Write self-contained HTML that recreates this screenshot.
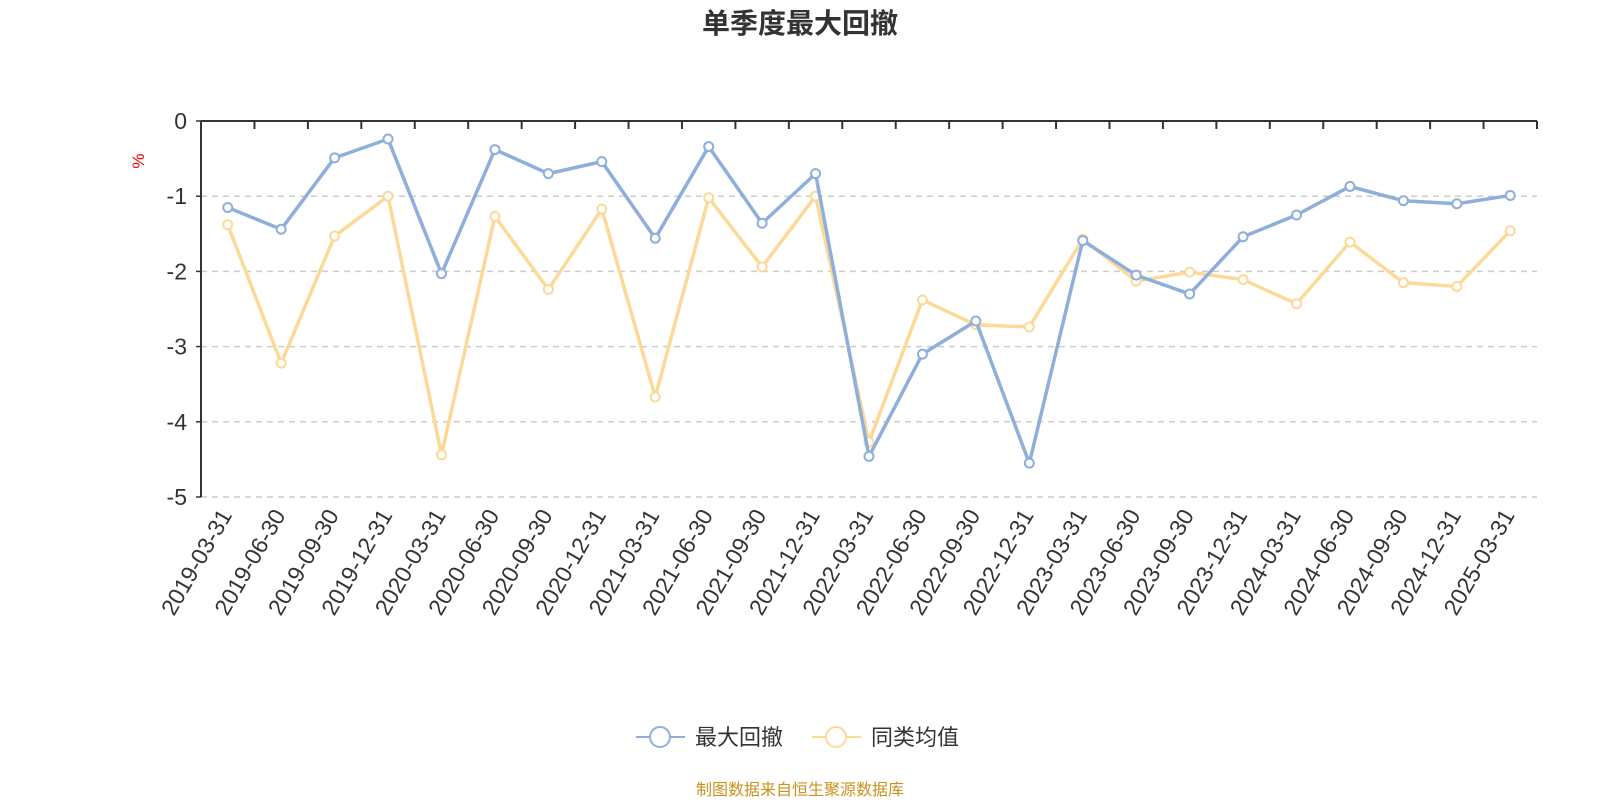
<!DOCTYPE html>
<html><head><meta charset="utf-8">
<style>
html,body{margin:0;padding:0;background:#fff;}
body{width:1600px;height:800px;overflow:hidden;font-family:"Liberation Sans","Noto Sans CJK SC",sans-serif;}
</style></head>
<body>
<svg id="chart" width="1600" height="800" xmlns="http://www.w3.org/2000/svg" font-family="Liberation Sans, Noto Sans CJK SC, sans-serif">
<text x="800" y="33" text-anchor="middle" font-size="28" font-weight="bold" fill="#333">单季度最大回撤</text>
<text x="0" y="0" transform="translate(144,161) rotate(-90)" text-anchor="middle" font-size="17" fill="#e00">%</text>
<g id="grid"></g><g id="axes"></g><g id="series"></g>
<g>
<g>
<line x1="636" y1="737" x2="685" y2="737" stroke="#8eafdc" stroke-width="2"/>
<circle cx="660" cy="737" r="10" fill="#fff" stroke="#8eafdc" stroke-width="2"/>
<text x="695" y="745" font-size="22" fill="#333">最大回撤</text></g>
<g>
<line x1="812" y1="737" x2="861" y2="737" stroke="#fdd998" stroke-width="2"/>
<circle cx="836" cy="737" r="10" fill="#fff" stroke="#fdd998" stroke-width="2"/>
<text x="871" y="745" font-size="22" fill="#333">同类均值</text></g>
</g>
<text x="800" y="795" text-anchor="middle" font-size="16" fill="#c8921e">制图数据来自恒生聚源数据库</text>
</svg>
<script>
const categories=["2019-03-31","2019-06-30","2019-09-30","2019-12-31","2020-03-31","2020-06-30","2020-09-30","2020-12-31","2021-03-31","2021-06-30","2021-09-30","2021-12-31","2022-03-31","2022-06-30","2022-09-30","2022-12-31","2023-03-31","2023-06-30","2023-09-30","2023-12-31","2024-03-31","2024-06-30","2024-09-30","2024-12-31","2025-03-31"];
const maxDrawdown=[-1.15,-1.44,-0.49,-0.24,-2.03,-0.38,-0.70,-0.54,-1.56,-0.34,-1.36,-0.70,-4.46,-3.10,-2.66,-4.55,-1.59,-2.05,-2.30,-1.54,-1.25,-0.87,-1.06,-1.10,-0.99];
const peerAverage=[-1.38,-3.22,-1.53,-1.00,-4.44,-1.27,-2.24,-1.17,-3.67,-1.02,-1.94,-1.00,-4.27,-2.38,-2.71,-2.74,-1.57,-2.13,-2.01,-2.11,-2.43,-1.61,-2.15,-2.20,-1.46];
const yTicks=[0,-1,-2,-3,-4,-5];
const NS="http://www.w3.org/2000/svg";
const L=201,R=1537,T=121,B=497;
const band=(R-L)/categories.length;
const xs=i=>L+band*(i+0.5);
const ys=v=>T+(0-v)/5*(B-T);
function mk(tag,attrs,parent){const e=document.createElementNS(NS,tag);for(const k in attrs)e.setAttribute(k,attrs[k]);parent.appendChild(e);return e;}
const grid=document.getElementById('grid'),axes=document.getElementById('axes'),ser=document.getElementById('series');
yTicks.forEach(v=>{
 if(v!==0){const g=mk('line',{x1:L,x2:R,y1:ys(v),y2:ys(v),stroke:'#ccc','stroke-width':1.5,'stroke-dasharray':'6,5'},grid);
 
 }
 const t=mk('text',{x:L-14,y:ys(v)+8,'text-anchor':'end','font-size':23,fill:'#333'},axes);
 t.textContent=v;
 
 
 const tk=mk('line',{x1:L-5,x2:L,y1:ys(v),y2:ys(v),stroke:'#333','stroke-width':1.5},axes);
 
 
});
const ya=mk('line',{x1:L,x2:L,y1:T,y2:B,stroke:'#333','stroke-width':2},axes);


const xa=mk('line',{x1:L,x2:R,y1:T,y2:T,stroke:'#333','stroke-width':2},axes);


for(let i=0;i<=categories.length;i++){
 const tk=mk('line',{x1:L+band*i,x2:L+band*i,y1:T,y2:T+8,stroke:'#333','stroke-width':2},axes);
 
 
}
categories.forEach((c,i)=>{
 const x=xs(i)-2,y=B+14;
 const t=mk('text',{x:x,y:y,'text-anchor':'end','font-size':23,fill:'#333',transform:`rotate(-60 ${x} ${y})`,dy:'0.35em'},axes);
 t.textContent=c;
 
 
});
function drawSeries(vals,color,name){
 const g=mk('g',{},ser);
 
 
 const p=mk('polyline',{points:vals.map((v,i)=>xs(i)+','+ys(v)).join(' '),fill:'none',stroke:color,'stroke-width':3.5,'stroke-linejoin':'round'},g);
 
 
 vals.forEach((v,i)=>{
  const c=mk('circle',{cx:xs(i),cy:ys(v),r:4.5,fill:'#fff',stroke:color,'stroke-width':2},g);
  
  
 });
}
drawSeries(peerAverage,'#fdd998','peer-average-series');
drawSeries(maxDrawdown,'#8eafdc','max-drawdown-series');
</script>
</body></html>
